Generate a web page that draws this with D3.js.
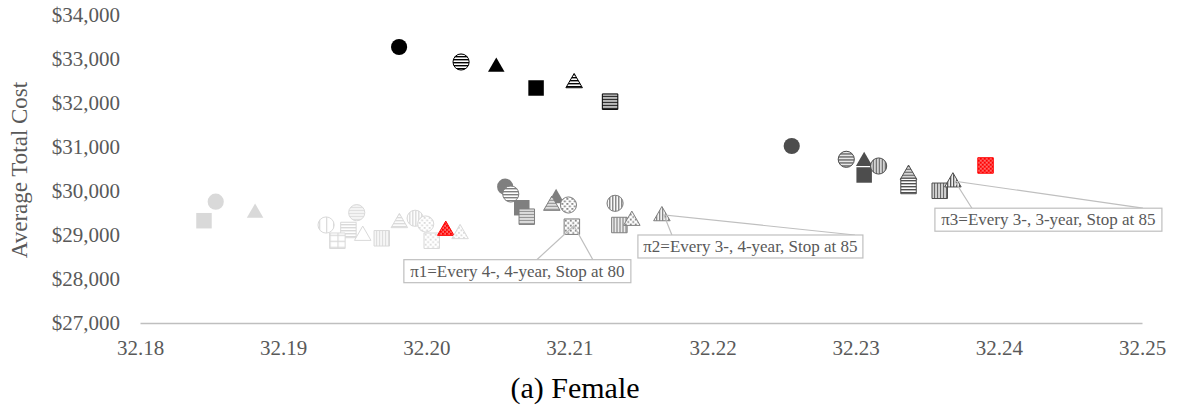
<!DOCTYPE html>
<html>
<head>
<meta charset="utf-8">
<script src="https://cdn.jsdelivr.net/npm/d3@7"></script>
<style>
  html, body { margin: 0; padding: 0; background: #fff; }
  svg { display: block; }
  svg text { font-family: 'Liberation Serif', 'Times New Roman', serif; }
</style>
</head>
<body>
<svg id="chart" width="1180" height="418"></svg>
<script>
// ---------------- data ----------------
const xTicks = [32.18, 32.19, 32.20, 32.21, 32.22, 32.23, 32.24, 32.25];
const yTicks = [27000, 28000, 29000, 30000, 31000, 32000, 33000, 34000];

// group 1 (black)
const blackKeys = ["circle", "circle-h", "triangle", "square", "triangle-h", "square-h"];
const blackX = [32.19810, 32.20243, 32.20489, 32.20767, 32.21033, 32.21284];
const blackY = [33273, 32932, 32818, 32341, 32455, 32030];

// group 2 (dark grey)
const darkKeys = ["circle", "circle-h", "triangle", "square", "circle-v", "triangle-h", "square-h", "square-v", "triangle-v", "square-red"];
const darkX = [32.22553, 32.22934, 32.23059, 32.23059, 32.23160, 32.23369, 32.23369, 32.23587, 32.23679, 32.23907];
const darkY = [31023, 30720, 30677, 30364, 30568, 30373, 30114, 30005, 30200, 30580];

// group 3 (medium grey)
const midKeys = ["circle", "circle-h", "square", "square-h", "triangle", "triangle-h", "circle-dot", "square-dot", "circle-v", "square-v", "triangle-dot", "triangle-v"];
const midX = [32.20551, 32.20590, 32.20667, 32.20702, 32.20907, 32.20877, 32.20993, 32.21017, 32.21319, 32.21349, 32.21436, 32.21646];
const midY = [30098, 29932, 29620, 29416, 29832, 29668, 29682, 29189, 29720, 29227, 29327, 29432];

// group 4 (light grey)
const lightKeys = ["circle", "square", "triangle", "circle-h", "circle-vw", "square-h", "square-grid", "triangle-open", "square-v", "triangle-h", "circle-v", "circle-dot", "square-dot", "triangle-red", "triangle-dot"];
const lightX = [32.18529, 32.18447, 32.18804, 32.19514, 32.19300, 32.19456, 32.19379, 32.19556, 32.19689, 32.19812, 32.19922, 32.19996, 32.20038, 32.20136, 32.20236];
const lightY = [29757, 29325, 29502, 29507, 29227, 29114, 28870, 28986, 28925, 29275, 29380, 29250, 28870, 29100, 29025];

// callouts
const calloutText = ["\u03c01=Every 4-, 4-year, Stop at 80", "\u03c02=Every 3-, 4-year, Stop at 85", "\u03c03=Every 3-, 3-year, Stop at 85"];
const calloutX = [32.21017, 32.21646, 32.23679];
const calloutY = [29189, 29432, 30200];

// ---------------- styles ----------------
const groupColors = { black: "#000000", dark: "#4d4d4d", mid: "#7f7f7f", light: "#d9d9d9" };
const RED = "#ff0000";
const textGrey = "#595959";
const serif = "'Liberation Serif', 'Times New Roman', serif";

const svg = d3.select("#chart");
const x = d3.scaleLinear().domain([32.18, 32.25]).range([140, 1142]);
const y = d3.scaleLinear().domain([27000, 34000]).range([323, 15]);

// ---------------- patterns ----------------
const defs = svg.append("defs");
function pattern(id, w, h, bg, draw) {
  const p = defs.append("pattern").attr("id", id).attr("patternUnits", "userSpaceOnUse")
    .attr("width", w).attr("height", h);
  p.append("rect").attr("width", w).attr("height", h).attr("fill", bg);
  draw(p);
}
Object.entries(groupColors).forEach(([g, c]) => {
  pattern(`h-${g}`, 4, 3, "#fff", p => p.append("rect").attr("x", 0).attr("y", 0).attr("width", 4).attr("height", 1.4).attr("fill", c));
  pattern(`v-${g}`, 3, 4, "#fff", p => p.append("rect").attr("x", 0).attr("y", 0).attr("width", 1.4).attr("height", 4).attr("fill", c));
  pattern(`vw-${g}`, 7, 4, "#fff", p => p.append("rect").attr("x", 0).attr("y", 0).attr("width", 1.2).attr("height", 4).attr("fill", c));
  pattern(`grid-${g}`, 8, 6, "#fff", p => {
    p.append("rect").attr("x", 0).attr("y", 0).attr("width", 8).attr("height", 1.2).attr("fill", c);
    p.append("rect").attr("x", 0).attr("y", 0).attr("width", 1.2).attr("height", 6).attr("fill", c);
  });
  pattern(`dot-${g}`, 5, 5, "#fff", p => {
    p.append("rect").attr("x", 0.5).attr("y", 0.5).attr("width", 1.8).attr("height", 1.8).attr("fill", c);
    p.append("rect").attr("x", 3).attr("y", 3).attr("width", 1.8).attr("height", 1.8).attr("fill", c);
  });
});
pattern("red-check", 4, 4, RED, p => {
  p.append("rect").attr("x", 0.6).attr("y", 0.6).attr("width", 1.3).attr("height", 1.3).attr("fill", "#fff");
  p.append("rect").attr("x", 2.6).attr("y", 2.6).attr("width", 1.3).attr("height", 1.3).attr("fill", "#fff");
});

// ---------------- axes ----------------
const xAxis = svg.append("g").attr("transform", "translate(0,323)")
  .call(d3.axisBottom(x).tickValues(xTicks).tickFormat(d3.format(".2f")).tickSize(0).tickPadding(17))
  .attr("font-family", serif).attr("font-size", 21);
xAxis.select(".domain").attr("stroke", "#bfbfbf").attr("stroke-width", 1.3);
xAxis.selectAll("text").attr("fill", textGrey).attr("font-family", serif).style("font-size", "21px");

const yAxis = svg.append("g").attr("transform", "translate(140,0)")
  .call(d3.axisLeft(y).tickValues(yTicks).tickFormat(d3.format("$,.0f")).tickSize(0).tickPadding(20))
  .attr("font-family", serif).attr("font-size", 21);
yAxis.select(".domain").remove();
yAxis.selectAll("text").attr("fill", textGrey).attr("font-family", serif).style("font-size", "21px");

svg.append("text").attr("transform", "translate(27,170) rotate(-90)")
  .attr("text-anchor", "middle").attr("fill", textGrey).attr("font-family", serif)
  .style("font-size", "23px").text("Average Total Cost");

// ---------------- markers ----------------
const shapeSize = { circle: 205, square: 240, triangle: 118 };
const symType = { circle: d3.symbolCircle, square: d3.symbolSquare, triangle: d3.symbolTriangle };

function styleFor(key, g) {
  const c = groupColors[g];
  const [shape, fillType] = key.split("-");
  let fill, stroke = c;
  if (!fillType) { fill = c; stroke = "none"; }
  else if (fillType === "red") { fill = "url(#red-check)"; stroke = RED; }
  else if (fillType === "open") { fill = "#fff"; }
  else fill = `url(#${fillType}-${g})`;
  return { shape, fill, stroke };
}

function drawGroup(g, keys, xs, ys) {
  const data = keys.map((k, i) => ({ key: k, x: xs[i], y: ys[i] }));
  svg.append("g").selectAll("path").data(data).join("path")
    .attr("transform", d => `translate(${x(d.x)},${y(d.y)})`)
    .attr("d", d => { const s = styleFor(d.key, g).shape; return d3.symbol(symType[s], shapeSize[s])(); })
    .attr("fill", d => styleFor(d.key, g).fill)
    .attr("stroke", d => styleFor(d.key, g).stroke)
    .attr("stroke-width", 1);
}
drawGroup("light", lightKeys, lightX, lightY);
drawGroup("mid", midKeys, midX, midY);
drawGroup("dark", darkKeys, darkX, darkY);
drawGroup("black", blackKeys, blackX, blackY);

// ---------------- callouts ----------------
const boxDx = [-168, -24, -18];   // box left relative to target
const boxDy = [33, 19, 26];       // box top relative to target
const boxW = [227, 225, 227];
const wedgeA = [133, 34, 37];
const wedgeB = [189, 217, 208];
const cg = svg.append("g");
calloutText.forEach((t, i) => {
  const tx = x(calloutX[i]), ty = y(calloutY[i]);
  const bx = tx + boxDx[i], by = ty + boxDy[i];
  cg.append("path")
    .attr("d", `M${bx + wedgeA[i]},${by} L${tx + 2},${ty - 1} L${bx + wedgeB[i]},${by}`)
    .attr("fill", "none").attr("stroke", "#bfbfbf").attr("stroke-width", 1.2);
  cg.append("rect").attr("x", bx).attr("y", by).attr("width", boxW[i]).attr("height", 23)
    .attr("fill", "#fff").attr("stroke", "#bfbfbf").attr("stroke-width", 1.2);
  cg.append("text").attr("x", bx + boxW[i] / 2).attr("y", by + 17).attr("text-anchor", "middle")
    .attr("fill", textGrey).attr("font-family", serif).style("font-size", "17px").text(t);
});

// ---------------- title ----------------
svg.append("text").attr("x", 575).attr("y", 398).attr("text-anchor", "middle")
  .attr("fill", "#000").attr("font-family", serif).style("font-size", "30px").text("(a) Female");
</script>
</body>
</html>
